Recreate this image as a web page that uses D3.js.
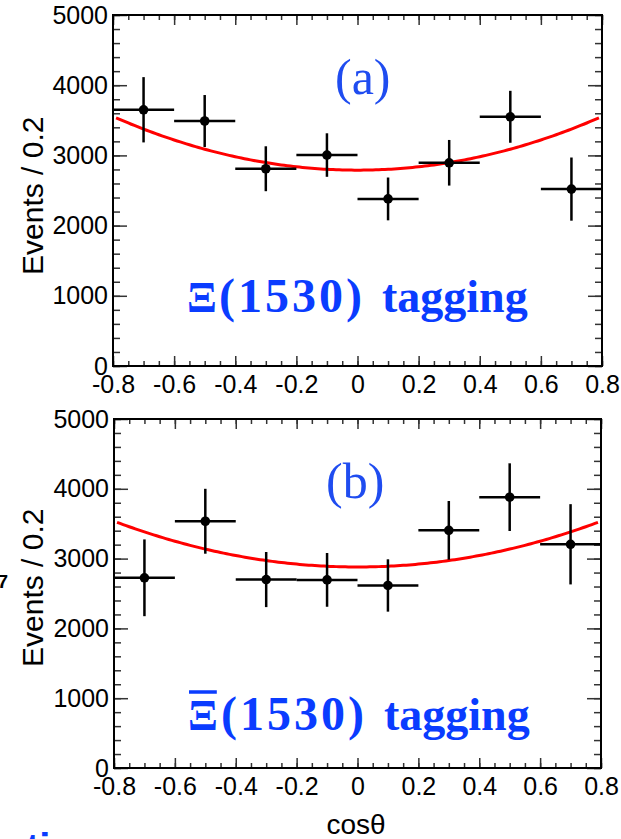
<!DOCTYPE html>
<html>
<head>
<meta charset="utf-8">
<script src="https://cdn.jsdelivr.net/npm/d3@7"></script>
<style>
  html, body { margin: 0; padding: 0; background: #fff; }
  svg { display: block; }
</style>
</head>
<body>
<script>
// ---- data ----
const binCenters = [-0.7, -0.5, -0.3, -0.1, 0.1, 0.3, 0.5, 0.7];
const binWidth = 0.2;
const eventsA = [3650, 3490, 2810, 3005, 2380, 2895, 3550, 2520];
const errorsA = [465, 370, 320, 310, 305, 325, 370, 450];
const eventsB = [2725, 3535, 2700, 2695, 2615, 3405, 3880, 3205];
const errorsB = [550, 465, 395, 385, 375, 420, 485, 575];
// fit: N * (1 + alpha * cos^2)
const fitA = [2790, 0.428];
const fitB = [2880, 0.356];
const fitRange = [-0.79, 0.79];
const xTicks = [-0.8, -0.6, -0.4, -0.2, 0, 0.2, 0.4, 0.6, 0.8];
const xTickLabels = ["-0.8", "-0.6", "-0.4", "-0.2", "0", "0.2", "0.4", "0.6", "0.8"];
const yTicks = [0, 1000, 2000, 3000, 4000, 5000];
const yTickLabels = ["0", "1000", "2000", "3000", "4000", "5000"];
const xDomain = [-0.8, 0.8];
const yDomain = [0, 5000];
const panelLabels = ["(a)", "(b)"];
const tagText = ["Ξ", "(1530)", "tagging"];
const yTitle = "Events / 0.2";
const xTitle = "cosθ";

const W = 621, H = 839;
const svg = d3.select("body").append("svg").attr("width", W).attr("height", H);

const panels = [
  { box: [113, 602, 15, 366], ev: eventsA, er: errorsA, fit: fitA, label: panelLabels[0],
    labelPos: [335, 94], tagPos: [187, 312], tagX1: 219, tagX2: 382, bar: false, titleEnd: 275 },
  { box: [114, 601, 419, 768], ev: eventsB, er: errorsB, fit: fitB, label: panelLabels[1],
    labelPos: [326, 498], tagPos: [188, 730], tagX1: 221, tagX2: 384, bar: true, titleEnd: 667 }
];

const BLUE = "#0a3cff";
const minorX = d3.range(-0.8, 0.8001, 0.05);
const minorY = d3.range(0, 5001, 200);

panels.forEach(p => {
  const [x0, x1, y0, y1] = p.box;
  const x = d3.scaleLinear().domain(xDomain).range([x0, x1]);
  const y = d3.scaleLinear().domain(yDomain).range([y1, y0]);
  const g = svg.append("g");

  const styleAxis = sel => {
    sel.select(".domain").remove();
    sel.selectAll(".tick line").attr("stroke", "#333").attr("stroke-width", 1.5);
  };
  // minor ticks
  g.append("g").attr("transform", `translate(${x0},0)`)
    .call(d3.axisLeft(y).tickValues(minorY).tickSizeInner(-7).tickSizeOuter(0).tickFormat(""))
    .call(styleAxis);
  g.append("g").attr("transform", `translate(${x1},0)`)
    .call(d3.axisRight(y).tickValues(minorY).tickSizeInner(-7).tickSizeOuter(0).tickFormat(""))
    .call(styleAxis);
  g.append("g").attr("transform", `translate(0,${y1})`)
    .call(d3.axisBottom(x).tickValues(minorX).tickSizeInner(-5).tickSizeOuter(0).tickFormat(""))
    .call(styleAxis);
  g.append("g").attr("transform", `translate(0,${y0})`)
    .call(d3.axisTop(x).tickValues(minorX).tickSizeInner(-5).tickSizeOuter(0).tickFormat(""))
    .call(styleAxis);

  // major ticks + labels
  const left = g.append("g").attr("transform", `translate(${x0},0)`)
    .call(d3.axisLeft(y).tickValues(yTicks).tickSizeInner(-14).tickSizeOuter(0).tickPadding(5)
      .tickFormat((d, i) => yTickLabels[i]))
    .call(styleAxis);
  g.append("g").attr("transform", `translate(${x1},0)`)
    .call(d3.axisRight(y).tickValues(yTicks).tickSizeInner(-14).tickSizeOuter(0).tickFormat(""))
    .call(styleAxis);
  const bottom = g.append("g").attr("transform", `translate(0,${y1})`)
    .call(d3.axisBottom(x).tickValues(xTicks).tickSizeInner(-10).tickSizeOuter(0).tickPadding(9)
      .tickFormat((d, i) => xTickLabels[i]))
    .call(styleAxis);
  g.append("g").attr("transform", `translate(0,${y0})`)
    .call(d3.axisTop(x).tickValues(xTicks).tickSizeInner(-10).tickSizeOuter(0).tickFormat(""))
    .call(styleAxis);
  [left, bottom].forEach(a => a.selectAll("text")
    .attr("font-family", "'Liberation Sans', Arial, sans-serif")
    .attr("font-size", 25).attr("fill", "#000"));

  // frame
  g.append("rect").attr("x", x0).attr("y", y0).attr("width", x1 - x0).attr("height", y1 - y0)
    .attr("fill", "none").attr("stroke", "#000").attr("stroke-width", 2);

  // fit curve
  const fx = d3.range(fitRange[0], fitRange[1] + 1e-9, 0.01);
  const line = d3.line().x(d => x(d)).y(d => y(p.fit[0] * (1 + p.fit[1] * d * d)));
  g.append("path").datum(fx).attr("d", line).attr("fill", "none")
    .attr("stroke", "#ff0000").attr("stroke-width", 3);

  // data points with error bars
  const pts = g.selectAll(".pt").data(binCenters.map((c, i) => ({ c, v: p.ev[i], e: p.er[i] })))
    .enter().append("g");
  pts.append("line")
    .attr("x1", d => x(d.c - binWidth / 2)).attr("x2", d => x(d.c + binWidth / 2))
    .attr("y1", d => y(d.v)).attr("y2", d => y(d.v))
    .attr("stroke", "#000").attr("stroke-width", 2.5);
  pts.append("line")
    .attr("x1", d => x(d.c)).attr("x2", d => x(d.c))
    .attr("y1", d => y(d.v - d.e)).attr("y2", d => y(d.v + d.e))
    .attr("stroke", "#000").attr("stroke-width", 2.5);
  pts.append("circle").attr("cx", d => x(d.c)).attr("cy", d => y(d.v)).attr("r", 4.8).attr("fill", "#000");

  // panel label
  g.append("text").attr("x", p.labelPos[0]).attr("y", p.labelPos[1])
    .attr("font-family", "'Liberation Serif', 'Times New Roman', serif")
    .attr("font-size", 50).attr("fill", "#1f4cf0").text(p.label);

  // tagging label
  const tag = g.append("text").attr("x", p.tagPos[0]).attr("y", p.tagPos[1])
    .attr("font-family", "'Liberation Serif', 'Times New Roman', serif")
    .attr("font-weight", "bold").attr("font-size", 46).attr("fill", BLUE);
  tag.append("tspan").attr("font-size", 44).text(tagText[0]);
  tag.append("tspan").attr("x", p.tagX1).attr("font-size", 48).attr("letter-spacing", 3).text(tagText[1]);
  tag.append("tspan").attr("x", p.tagX2).attr("letter-spacing", 0).text(tagText[2]);
  if (p.bar) {
    const ext = tag.node().getExtentOfChar(0);
    g.append("line").attr("x1", ext.x + 1).attr("x2", ext.x + ext.width - 1)
      .attr("y1", p.tagPos[1] - 38).attr("y2", p.tagPos[1] - 38)
      .attr("stroke", BLUE).attr("stroke-width", 3.5);
  }

  // y title
  svg.append("text").attr("transform", `translate(43,${p.titleEnd}) rotate(-90)`)
    .attr("font-family", "'Liberation Sans', Arial, sans-serif")
    .attr("font-size", 30).attr("fill", "#000").text(yTitle);
});

// x title
svg.append("text").attr("x", 356).attr("y", 834).attr("text-anchor", "middle")
  .attr("font-family", "'Liberation Sans', Arial, sans-serif")
  .attr("font-size", 28).attr("fill", "#000").text(xTitle);

// slide fragments at the edges
svg.append("text").attr("x", 8).attr("y", 588).attr("text-anchor", "end")
  .attr("font-family", "'Liberation Sans', Arial, sans-serif").attr("font-weight", "bold")
  .attr("font-size", 19).attr("fill", "#000").text("7");
svg.append("text").attr("x", 26).attr("y", 862)
  .attr("font-family", "'Liberation Sans', Arial, sans-serif").attr("font-weight", "bold")
  .attr("font-size", 40).attr("fill", BLUE).text("ti");
</script>
</body>
</html>
